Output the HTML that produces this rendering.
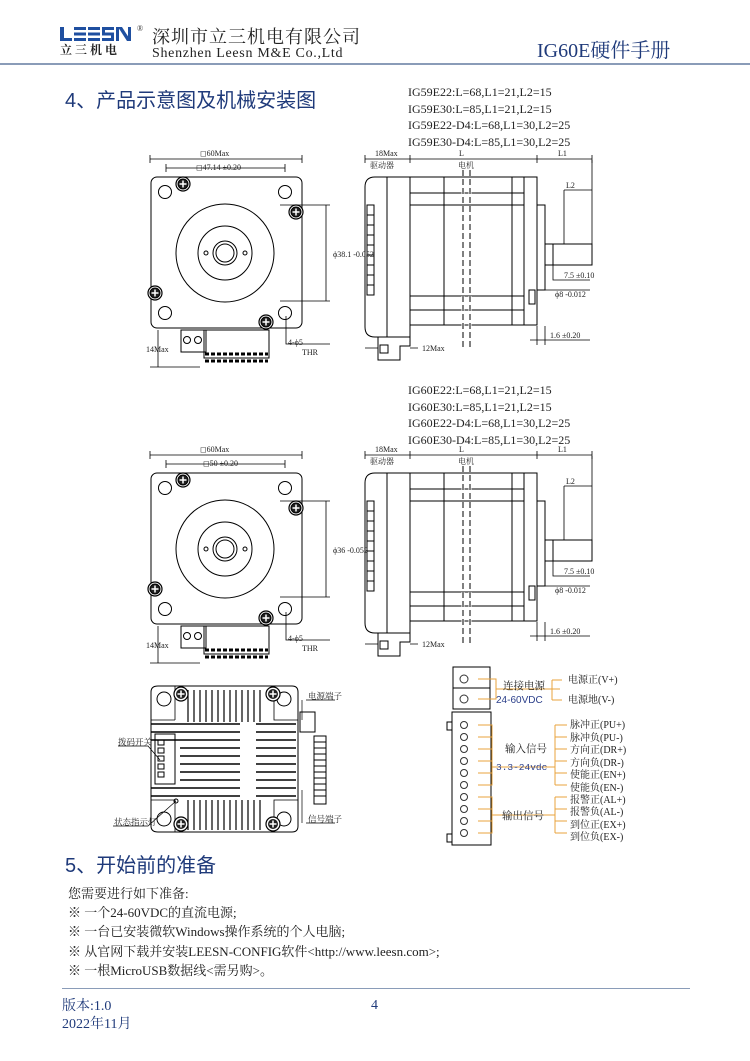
<!DOCTYPE html>
<html><head><meta charset="utf-8"><style>
html,body{margin:0;padding:0;background:#fff;}
body{width:750px;height:1061px;position:relative;overflow:hidden;font-family:"Liberation Serif","Noto Serif CJK SC",serif;}
.a{position:absolute;white-space:nowrap;}
</style></head><body>
<!-- header -->
<div class="a" style="left:60px;top:27px;width:74px;height:14px;">
<svg width="74" height="16"><g fill="#1f4fa0"><rect x="0" y="0" width="4" height="14"/><rect x="0" y="11" width="12" height="3"/><rect x="14" y="0" width="12" height="3"/><rect x="14" y="5.5" width="12" height="3"/><rect x="14" y="11" width="12" height="3"/><rect x="28" y="0" width="12" height="3"/><rect x="28" y="5.5" width="12" height="3"/><rect x="28" y="11" width="12" height="3"/><rect x="42" y="0" width="12" height="3"/><rect x="42" y="5.5" width="12" height="3"/><rect x="42" y="11" width="12" height="3"/><rect x="42" y="0" width="3" height="8"/><rect x="51" y="6" width="3" height="8"/><rect x="56" y="0" width="3" height="14"/><rect x="68" y="0" width="3" height="14"/><polygon points="58,0 62,0 71,14 67,14"/></g></svg></div>
<div class="a" style="left:137px;top:24px;font-size:8px;color:#333;">®</div>
<div class="a" style="left:60px;top:43px;font-size:12px;line-height:14px;font-weight:bold;letter-spacing:3px;color:#222;font-family:'Noto Serif CJK SC',serif;">立三机电</div>
<div class="a" style="left:152px;top:27px;font-size:18px;line-height:20px;color:#222;letter-spacing:1px;">深圳市立三机电有限公司</div>
<div class="a" style="left:152px;top:46px;font-size:14px;line-height:15px;color:#222;letter-spacing:0.7px;">Shenzhen Leesn M&amp;E Co.,Ltd</div>
<div class="a" style="left:537px;top:40px;font-size:20px;line-height:22px;color:#1f3a7a;">IG60E硬件手册</div>
<div class="a" style="left:0;top:63px;width:750px;height:2px;background:#8a9cb8;"></div>

<div class="a" style="left:65px;top:84px;font-size:20px;color:#1f3a7a;font-family:'Liberation Sans','Noto Sans CJK SC',sans-serif;">4、产品示意图及机械安装图</div>
<div class="a" style="left:408px;top:84px;font-size:12px;line-height:16.5px;color:#222;">IG59E22:L=68,L1=21,L2=15<br>IG59E30:L=85,L1=21,L2=15<br>IG59E22-D4:L=68,L1=30,L2=25<br>IG59E30-D4:L=85,L1=30,L2=25</div>
<div class="a" style="left:408px;top:382px;font-size:12px;line-height:16.5px;color:#222;">IG60E22:L=68,L1=21,L2=15<br>IG60E30:L=85,L1=21,L2=15<br>IG60E22-D4:L=68,L1=30,L2=25<br>IG60E30-D4:L=85,L1=30,L2=25</div>

<svg class="a" style="left:0;top:0" width="750" height="1061" font-family="Liberation Serif,Noto Serif CJK SC,serif">
<defs>
<g id="scr"><circle r="7" fill="#fff" stroke="#000" stroke-width="1.2"/><circle r="5" fill="#222"/><path d="M-3.5 0H3.5M0 -3.5V3.5" stroke="#fff" stroke-width="1.5"/></g>
<g id="motor" fill="none" stroke="#000" stroke-width="1">
 <path d="M150 155V163M302 155V163M150 159H302" stroke-width="0.8"/>
 <path d="M166 168H285M166 164V172M285 164V172" stroke-width="0.8"/>
 <rect x="151" y="177" width="151" height="151" rx="6"/>
 <circle cx="165" cy="192" r="6.5"/><circle cx="285" cy="192" r="6.5"/><circle cx="165" cy="313" r="6.5"/><circle cx="285" cy="313" r="6.5"/>
 <circle cx="225" cy="253" r="49"/><circle cx="225" cy="253" r="27"/><circle cx="225" cy="253" r="12"/><circle cx="225" cy="253" r="9"/>
 <circle cx="206" cy="253" r="2"/><circle cx="245" cy="253" r="2"/>
 <use href="#scr" x="183" y="184"/><use href="#scr" x="296" y="212"/><use href="#scr" x="155" y="293"/><use href="#scr" x="266" y="322"/>
 <path d="M280 205H330M280 301H330M326 205V301" stroke-width="0.8"/>
 <rect x="181" y="330" width="25" height="22"/><circle cx="187" cy="340" r="3.5"/><circle cx="198" cy="340" r="3.5"/>
 <rect x="204" y="330" width="65" height="28"/>
 <path d="M205 354H268M205 361H268" stroke-width="3" stroke-dasharray="4 2"/>
 <path d="M158 330V367M150 367H200" stroke-width="0.8"/>
 <path d="M286 316V344H330" stroke-width="0.8"/>
 <path d="M365 155V163M410 155V163M537 155V163M592 155V163M365 159H592" stroke-width="0.8"/>
 <path d="M375 177H537V325H410V337H375Q365 337 365 327V187Q365 177 375 177Z"/>
 <path d="M387 177V337M410 177V325M444 177V325M512 177V325M524 177V325" />
 <path d="M410 193H524M410 205H524M410 296H524M410 310H524" />
 <path d="M463 170V350M470 170V350" stroke-dasharray="6 3" stroke="#fff" stroke-width="3"/>
 <path d="M463 170V350M470 170V350" stroke-dasharray="6 3"/>
 <rect x="367" y="205" width="7" height="90"/>
 <path d="M367 215H374M367 225H374M367 235H374M367 245H374M367 255H374M367 265H374M367 275H374M367 285H374"/>
 <rect x="529" y="290" width="6" height="14"/>
 <path d="M537 205H545V290H537M545 244H592V265H545M553 244V265"/>
 <path d="M553 245V280H590M564 190V244M592 160V244M564 190H592" stroke-width="0.8"/>
 <path d="M545 290H590M537 326V345M545 326V345M530 340H590" stroke-width="0.8"/>
 <path d="M378 337V360H400V346H410V337" />
 <rect x="380" y="345" width="8" height="8"/>
 <path d="M365 348H378M410 348H418" stroke-width="0.8"/>
</g>
</defs>
<g font-size="8" fill="#222">
<use href="#motor"/>
<text x="200" y="156">◻60Max</text><text x="196" y="170">◻47.14 ±0.20</text>
<text x="333" y="257">ϕ38.1 -0.052</text>
<text x="146" y="352">14Max</text><text x="288" y="345">4-ϕ5</text><text x="302" y="355">THR</text>
<text x="375" y="156">18Max</text><text x="370" y="168">驱动器</text><text x="458" y="168">电机</text><text x="459" y="156">L</text><text x="558" y="156">L1</text><text x="566" y="188">L2</text>
<text x="564" y="278">7.5 ±0.10</text><text x="555" y="297">ϕ8 -0.012</text><text x="550" y="338">1.6 ±0.20</text><text x="422" y="351">12Max</text>
</g>
<g transform="translate(0,296)" font-size="8" fill="#222">
<use href="#motor"/>
<text x="200" y="156">◻60Max</text><text x="203" y="170">◻50 ±0.20</text>
<text x="333" y="257">ϕ36 -0.052</text>
<text x="146" y="352">14Max</text><text x="288" y="345">4-ϕ5</text><text x="302" y="355">THR</text>
<text x="375" y="156">18Max</text><text x="370" y="168">驱动器</text><text x="458" y="168">电机</text><text x="459" y="156">L</text><text x="558" y="156">L1</text><text x="566" y="188">L2</text>
<text x="564" y="278">7.5 ±0.10</text><text x="555" y="297">ϕ8 -0.012</text><text x="550" y="338">1.6 ±0.20</text><text x="422" y="351">12Max</text>
</g>
<g fill="none" stroke="#000" stroke-width="1">
 <path d="M158 686H292Q298 686 298 692V826Q298 832 292 832H158Q151 832 151 826V692Q151 686 158 686Z"/>
 <circle cx="164" cy="699" r="7"/><circle cx="284" cy="699" r="7"/><circle cx="164" cy="819" r="7"/><circle cx="284" cy="819" r="7"/>
 <path d="M175 686V720M151 720H175M274 686V720H298M175 832V800H151M274 832V800H298" stroke-width="0.8"/>
 <g stroke-width="1.2">
 <path d="M188 690v32M194 690v32M200 690v32M206 690v32M212 690v32M218 690v32M224 690v32M230 690v32M236 690v32M242 690v32M248 690v32M254 690v32M260 690v32"/>
 <path d="M188 800v30M194 800v30M200 800v30M206 800v30M212 800v30M218 800v30M224 800v30M230 800v30M236 800v30M242 800v30M248 800v30M254 800v30M260 800v30"/>
 </g>
 <path d="M151 724H240M151 732H240M151 740H240M151 788H240M151 796H240M256 724H296M256 732H296M256 740H296M256 748H296M256 756H296M256 764H296M256 772H296M256 780H296M256 788H296M256 796H296" stroke-width="1.5"/>
 <path d="M180 748H240M180 756H240M180 764H240M180 772H240M180 780H240" stroke-width="1.5"/>
 <rect x="155" y="734" width="20" height="50"/>
 <rect x="158" y="740" width="6" height="5"/><rect x="158" y="748" width="6" height="5"/><rect x="158" y="756" width="6" height="5"/><rect x="158" y="764" width="6" height="5"/><rect x="158" y="772" width="6" height="5"/>
 <rect x="300" y="712" width="15" height="20"/>
 <rect x="314" y="736" width="12" height="68"/>
 <path d="M314 742h12M314 748h12M314 754h12M314 760h12M314 766h12M314 772h12M314 778h12M314 784h12M314 790h12M314 796h12"/>
 <circle cx="176" cy="801" r="2"/>
 <path d="M118 746H148L160 760M113 826H148L176 801M306 700H335M302 700V720M306 823H335M302 790V823" stroke-width="0.7"/>
</g>
<use href="#scr" x="181" y="694"/><use href="#scr" x="273" y="694"/><use href="#scr" x="181" y="824"/><use href="#scr" x="273" y="824"/>
<g font-size="8.5" fill="#222"><text x="308" y="699">电源端子</text><text x="118" y="745">拨码开关</text><text x="114" y="825">状态指示灯</text><text x="308" y="822">信号端子</text></g>
<g fill="none" stroke="#000" stroke-width="1">
 <rect x="453" y="667" width="37" height="42"/><path d="M453 688H490"/>
 <rect x="452" y="712" width="39" height="133"/>
 <rect x="447" y="722" width="5" height="8"/><rect x="447" y="834" width="5" height="8"/>
</g>
<g fill="none" stroke="#333">
<circle cx="464" cy="679" r="4"/><circle cx="464" cy="699" r="4"/>
<circle cx="464" cy="725" r="3.5"/><circle cx="464" cy="737" r="3.5"/><circle cx="464" cy="749" r="3.5"/><circle cx="464" cy="761" r="3.5"/><circle cx="464" cy="773" r="3.5"/><circle cx="464" cy="785" r="3.5"/><circle cx="464" cy="797" r="3.5"/><circle cx="464" cy="809" r="3.5"/><circle cx="464" cy="821" r="3.5"/><circle cx="464" cy="833" r="3.5"/>
</g>
<g fill="none" stroke="#e8a33c" stroke-width="1">
 <path d="M478 679H496V699H478M496 689H560M552 680V700M552 680H562M552 700H562"/>
 <path d="M478 725H492V785H478M478 737H492M478 749H492M478 761H492M478 773H492M492 767H555M555 725V785M555 725H567M555 737H567M555 749H567M555 761H567M555 773H567M555 785H567"/>
 <path d="M478 797H492V833H478M478 809H492M478 821H492M492 815H555M555 797V833M555 797H567M555 809H567M555 821H567M555 833H567"/>
</g>
<g font-size="10.5" fill="#222">
<text x="503" y="689">连接电源</text><text x="496" y="703" fill="#2b3f8a" font-family="Liberation Sans,sans-serif" font-size="10">24-60VDC</text>
<text x="505" y="752">输入信号</text><text x="496" y="770" fill="#2b3f8a" font-family="Liberation Mono,monospace" font-size="9.5">3.3-24vdc</text>
<text x="502" y="819">输出信号</text>
<g font-size="10"><text x="568" y="683">电源正(V+)</text><text x="568" y="703">电源地(V-)</text>
<text x="570" y="728">脉冲正(PU+)</text><text x="570" y="741">脉冲负(PU-)</text><text x="570" y="753">方向正(DR+)</text><text x="570" y="766">方向负(DR-)</text><text x="570" y="778">使能正(EN+)</text><text x="570" y="791">使能负(EN-)</text>
<text x="570" y="803">报警正(AL+)</text><text x="570" y="815">报警负(AL-)</text><text x="570" y="828">到位正(EX+)</text><text x="570" y="840">到位负(EX-)</text></g>
</g>
</svg>

<div class="a" style="left:65px;top:849px;font-size:20px;color:#1f3a7a;font-family:'Liberation Sans','Noto Sans CJK SC',sans-serif;">5、开始前的准备</div>
<div class="a" style="left:68px;top:884px;font-size:13px;line-height:19.2px;color:#222;">您需要进行如下准备:<br>※ 一个24-60VDC的直流电源;<br>※ 一台已安装微软Windows操作系统的个人电脑;<br>※ 从官网下载并安装LEESN-CONFIG软件&lt;http://www.leesn.com&gt;;<br>※ 一根MicroUSB数据线&lt;需另购&gt;。</div>
<div class="a" style="left:62px;top:988px;width:628px;height:1px;background:#8a9cb8;"></div>
<div class="a" style="left:62px;top:998px;font-size:14px;line-height:18px;color:#1f3a7a;">版本:1.0<br>2022年11月</div>
<div class="a" style="left:371px;top:998px;font-size:14px;color:#1f3a7a;">4</div>
</body></html>
